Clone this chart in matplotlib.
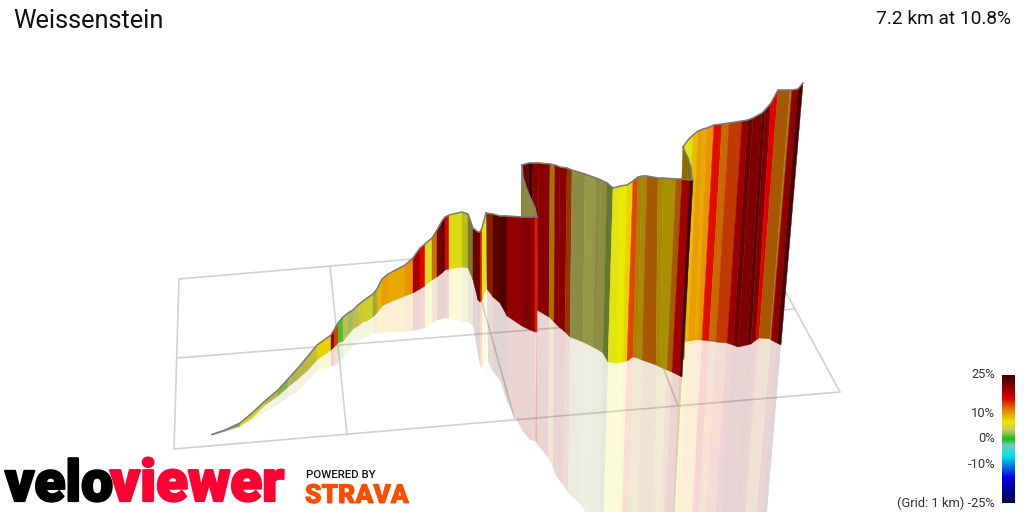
import numpy as np
import matplotlib
matplotlib.use("Agg")
import matplotlib.pyplot as plt
import matplotlib.patheffects as pe
from matplotlib.colors import LinearSegmentedColormap

# ---------- data (image pixel units) ----------
title = "Weissenstein"
subtitle = "7.2 km at 10.8%"
bar_ticks = [25, 10, 0, -10, -25]
bar_labels = ["25%", "10%", "0%", "-10%", "(Grid: 1 km) -25%"]
nan = float('nan')

grid_x0 = [179, 330, 468, 615, 752, 179, 177, 174]
grid_y0 = [279, 266, 253, 241, 230, 279, 358, 449]
grid_x1 = [174, 347, 515, 678, 840, 752, 795, 840]
grid_y1 = [449, 435, 420, 406, 392, 230, 309, 392]

# section A: the first climb
a_x = [212,225,240,252,265,278,288,298,308,317,331,334,338,343,348,353,358,363,367,373,377,382,388,405,413,420,425,432,437,442,445,449,462,468,473,478,480,482,486]
a_top = [434.5,430,423,413,401,390,379,368,356,345,335,330,323,317,313,310,305,301,298,294,289,279,274,265,258,248,244,238,230,221,217,215,212,214,228,232,232,228,213]
a_base = [435,431,426,418,405,396,387,379,370,360,350,347,343,341,335,329,326,322,321,317,313,306,303,296,293,289,286,280,277,273,270,269,267,268,280,300,302,300,289]
a_refl = [435.5,432,428,421,412,405,397,391,381,371,366,366,363,358,353,345,342,339,337,334,333,333,332,332,331,329,328,323,320,319,318,319,321,322,326,355,365,368,361]
a_grade = [1.5,2,5,5,4,2.5,3.5,4,4.5,7.5,21,14,1,3.5,3,3.5,4.5,5,5,4,9,10,9.5,10.5,19,16,5.5,11,21,24,16,6,5.5,4,22,23,15,6]
a_shade = [.9,.9,.95,.95,.9,.9,.9,.9,.9,1,1,1,1,.95,.95,.95,.95,.95,.95,.8,1,1,1,1,1,1,1,.85,1,1,1,.97,.85,.6,1,1,1,1]

# section B: up to the first hairpin
b_xt = [486,493,500,507,522,530,535,537]
b_xb = [487,493,500,507,522,530,535,537]
b_top = [213,214,216,216,217,217,217,217]
b_base = [289,297,303,316,326,330,332,332]
b_refl = [361,372,380,402,430,440,441,442]
b_grade = [14,23,24,20,21,20,15]
b_shade = [.6,1,1,1,1,1,1]

# first hairpin
t1_xt = [537,535,530,526,523,522]
t1_xb = [537,535,530,527,524,520]
t1_top = [217,208,197,187,177,165]
t1_base = [332,328,320,312,305,298]
t1_refl = [nan,nan,nan,nan,nan,nan]
t1_grade = [3.6,3.6,3.6,3.6,3.6]
t1_shade = [.7,.7,.7,.7,.7]

# section C
c_xt = [522,529,533,539,550,555,560,567,572,585,596,601,607,613,620,627,633,638,642,647,658,663,676,682,690,693]
c_xb = [520,526,531,537,549,554,558,565,570,583,593,597,603,608,617,623,627,633,637,642,656,660,667,672,680,682]
c_top = [165,163,163,163,164,165,167,168,170,174,178,180,183,188,186,185,181,177,176,176,178,178,179,179,180,180]
c_base = [298,300,303,310,317,322,326,332,337,342,347,349,353,362,363,362,361,357,358,360,365,367,370,372,376,377]
c_refl = [nan,nan,nan,442,458,468,476,485,493,505,520,525,530,600,600,600,600,600,600,600,600,600,600,600,600,600]
c_grade = [22,25,20.5,20.5,10,20.5,20.5,13,3.5,3.5,3.5,3.6,2.8,6,6.5,7.5,13.5,9,8.5,11.5,8.5,8,11.5,16,25]
c_shade = [1,1,1,1,.72,1,1,.65,.7,.76,.7,.7,.6,1,1,1,1,.72,.72,.72,.72,.72,.72,.72,1]

# second hairpin
t2_xt = [692,691,688,685,683]
t2_xb = [684,683,681,679,676]
t2_top = [180,168,158,152,147]
t2_base = [360,357,354,350,345]
t2_refl = [nan,nan,nan,nan,nan]
t2_grade = [9,9,9,9]
t2_shade = [.6,.6,.6,.6]

# section D
d_xt = [683,688,693,698,703,707,714,722,729,742,748,753,762,765,771,778,790,792,798,803]
d_xb = [677,680,684,688,695,698,702,709,716,727,733,738,747,751,756,759,770,771,777,781]
d_top = [147,140,135,131,129,128,125,124,123,121,120,118,113,110,103,90,90,90,89,83]
d_base = [345,344,342,341,340,340,340,341,342,343,345,347,345,344,340,338,339,340,343,345]
d_refl = [nan,600,600,600,600,600,600,600,600,600,600,600,600,600,600,600,600,600,600,600]
d_grade = [6.5,6,8.5,10,9.5,10.5,15.5,11.5,13.5,19.5,22,21,23,21,16,11.5,9,20,24]
d_shade = [1,1,1,1,1,1,1,.85,.85,1,1,1,1,1,1,.72,.72,1,1]

# ---------- colour scale ----------
anchors = [(-25,"#000050"),(-15,"#0000e8"),(-6.5,"#00e8e8"),(-2.5,"#70c8c0"),(0,"#10c010"),
           (3.5,"#c8c860"),(6.5,"#e8e800"),(11,"#e88a00"),(16,"#e00000"),(21,"#800000"),(25,"#3c0000")]
cmap = LinearSegmentedColormap.from_list("grade", [((g+25)/50, c) for g, c in anchors], N=512)
def colour(g, s):
    return tuple(np.array(cmap((g+25)/50)[:3]) * s)

# ---------- figure ----------
plt.rcParams['font.family'] = ['Roboto', 'DejaVu Sans']
fig = plt.figure(figsize=(10.24, 5.12), dpi=100)
ax = fig.add_axes([0, 0, 1, 1])
ax.set_xlim(0, 1024); ax.set_ylim(512, 0); ax.axis('off')

for x0, y0, x1, y1 in zip(grid_x0, grid_y0, grid_x1, grid_y1):
    ax.plot([x0, x1], [y0, y1], color="#d2d2d2", lw=1.2, zorder=1, solid_capstyle='round')

sections = [
    (d_xt, d_xb, d_top, d_base, d_refl, d_grade, d_shade),
    (t2_xt, t2_xb, t2_top, t2_base, t2_refl, t2_grade, t2_shade),
    (c_xt, c_xb, c_top, c_base, c_refl, c_grade, c_shade),
    (t1_xt, t1_xb, t1_top, t1_base, t1_refl, t1_grade, t1_shade),
    (b_xt, b_xb, b_top, b_base, b_refl, b_grade, b_shade),
    (a_x, a_x, a_top, a_base, a_refl, a_grade, a_shade),
]

z = 3
for xt, xb, top, base, refl, grades, shades in sections:
    xt, xb, top, base, refl = [np.asarray(v, float) for v in (xt, xb, top, base, refl)]
    dx = (xb - xt) / np.maximum(base - top, 0.5)
    xr = xb + dx * (refl - base)
    for i, (g, s) in enumerate(zip(grades, shades)):
        c = colour(g, s)
        if not (np.isnan(refl[i]) or np.isnan(refl[i+1])):
            ax.fill([xb[i], xb[i+1], xr[i+1], xr[i]], [base[i], base[i+1], refl[i+1], refl[i]],
                    facecolor=c, edgecolor='none', alpha=0.17, zorder=2)
        ax.fill([xt[i], xt[i+1], xb[i+1], xb[i]], [top[i], top[i+1], base[i+1], base[i]],
                facecolor=c, edgecolor=c, lw=0.3, zorder=z)
    ax.plot(xt, top, color="#7a7a7a", lw=1.1, zorder=z + 0.5, solid_joinstyle='round')
    z += 1

# ---------- text ----------
ax.text(13, 20.5, title, fontsize=18.3, color="#111111", va='center', ha='left', zorder=20)
ax.text(1011, 19, subtitle, fontsize=13.8, color="#111111", va='center', ha='right', zorder=20)

heavy = [pe.withStroke(linewidth=1.6, foreground="#000000")]
heavy_red = [pe.withStroke(linewidth=1.6, foreground="#ff0033")]
heavy_or = [pe.withStroke(linewidth=0.6, foreground="#fc4c02")]
ax.text(5, 501, "velo", fontsize=41, fontweight='black', color="#000000", va='baseline', ha='left', zorder=20, path_effects=heavy)
ax.text(110, 501, "viewer", fontsize=42, fontweight='black', color="#ff0033", va='baseline', ha='left', zorder=20, path_effects=heavy_red)
ax.text(305.5, 477.5, "POWERED BY", fontsize=8.2, fontweight='medium', color="#111111", va='baseline', ha='left', zorder=20)
ax.text(305, 503, "STRAVA", fontsize=19, fontweight='black', color="#fc4c02", va='baseline', ha='left', zorder=20, path_effects=heavy_or)

# ---------- colour bar ----------
cax = fig.add_axes([1002/1024, (512-503)/512, 13/1024, 128/512])
grad = np.linspace(25, -25, 256).reshape(-1, 1)
cax.imshow(grad, cmap=cmap, vmin=-25, vmax=25, aspect='auto', extent=[0, 1, -25, 25])
cax.axis('off')
for t, lab in zip(bar_ticks, bar_labels):
    cax.annotate(lab, xy=(0, t), xycoords='data', xytext=(-7, 0), textcoords='offset pixels',
                 ha='right', va='center', fontsize=9.3, color="#333333", annotation_clip=False)

fig.savefig("out.png", dpi=100, facecolor='white')
